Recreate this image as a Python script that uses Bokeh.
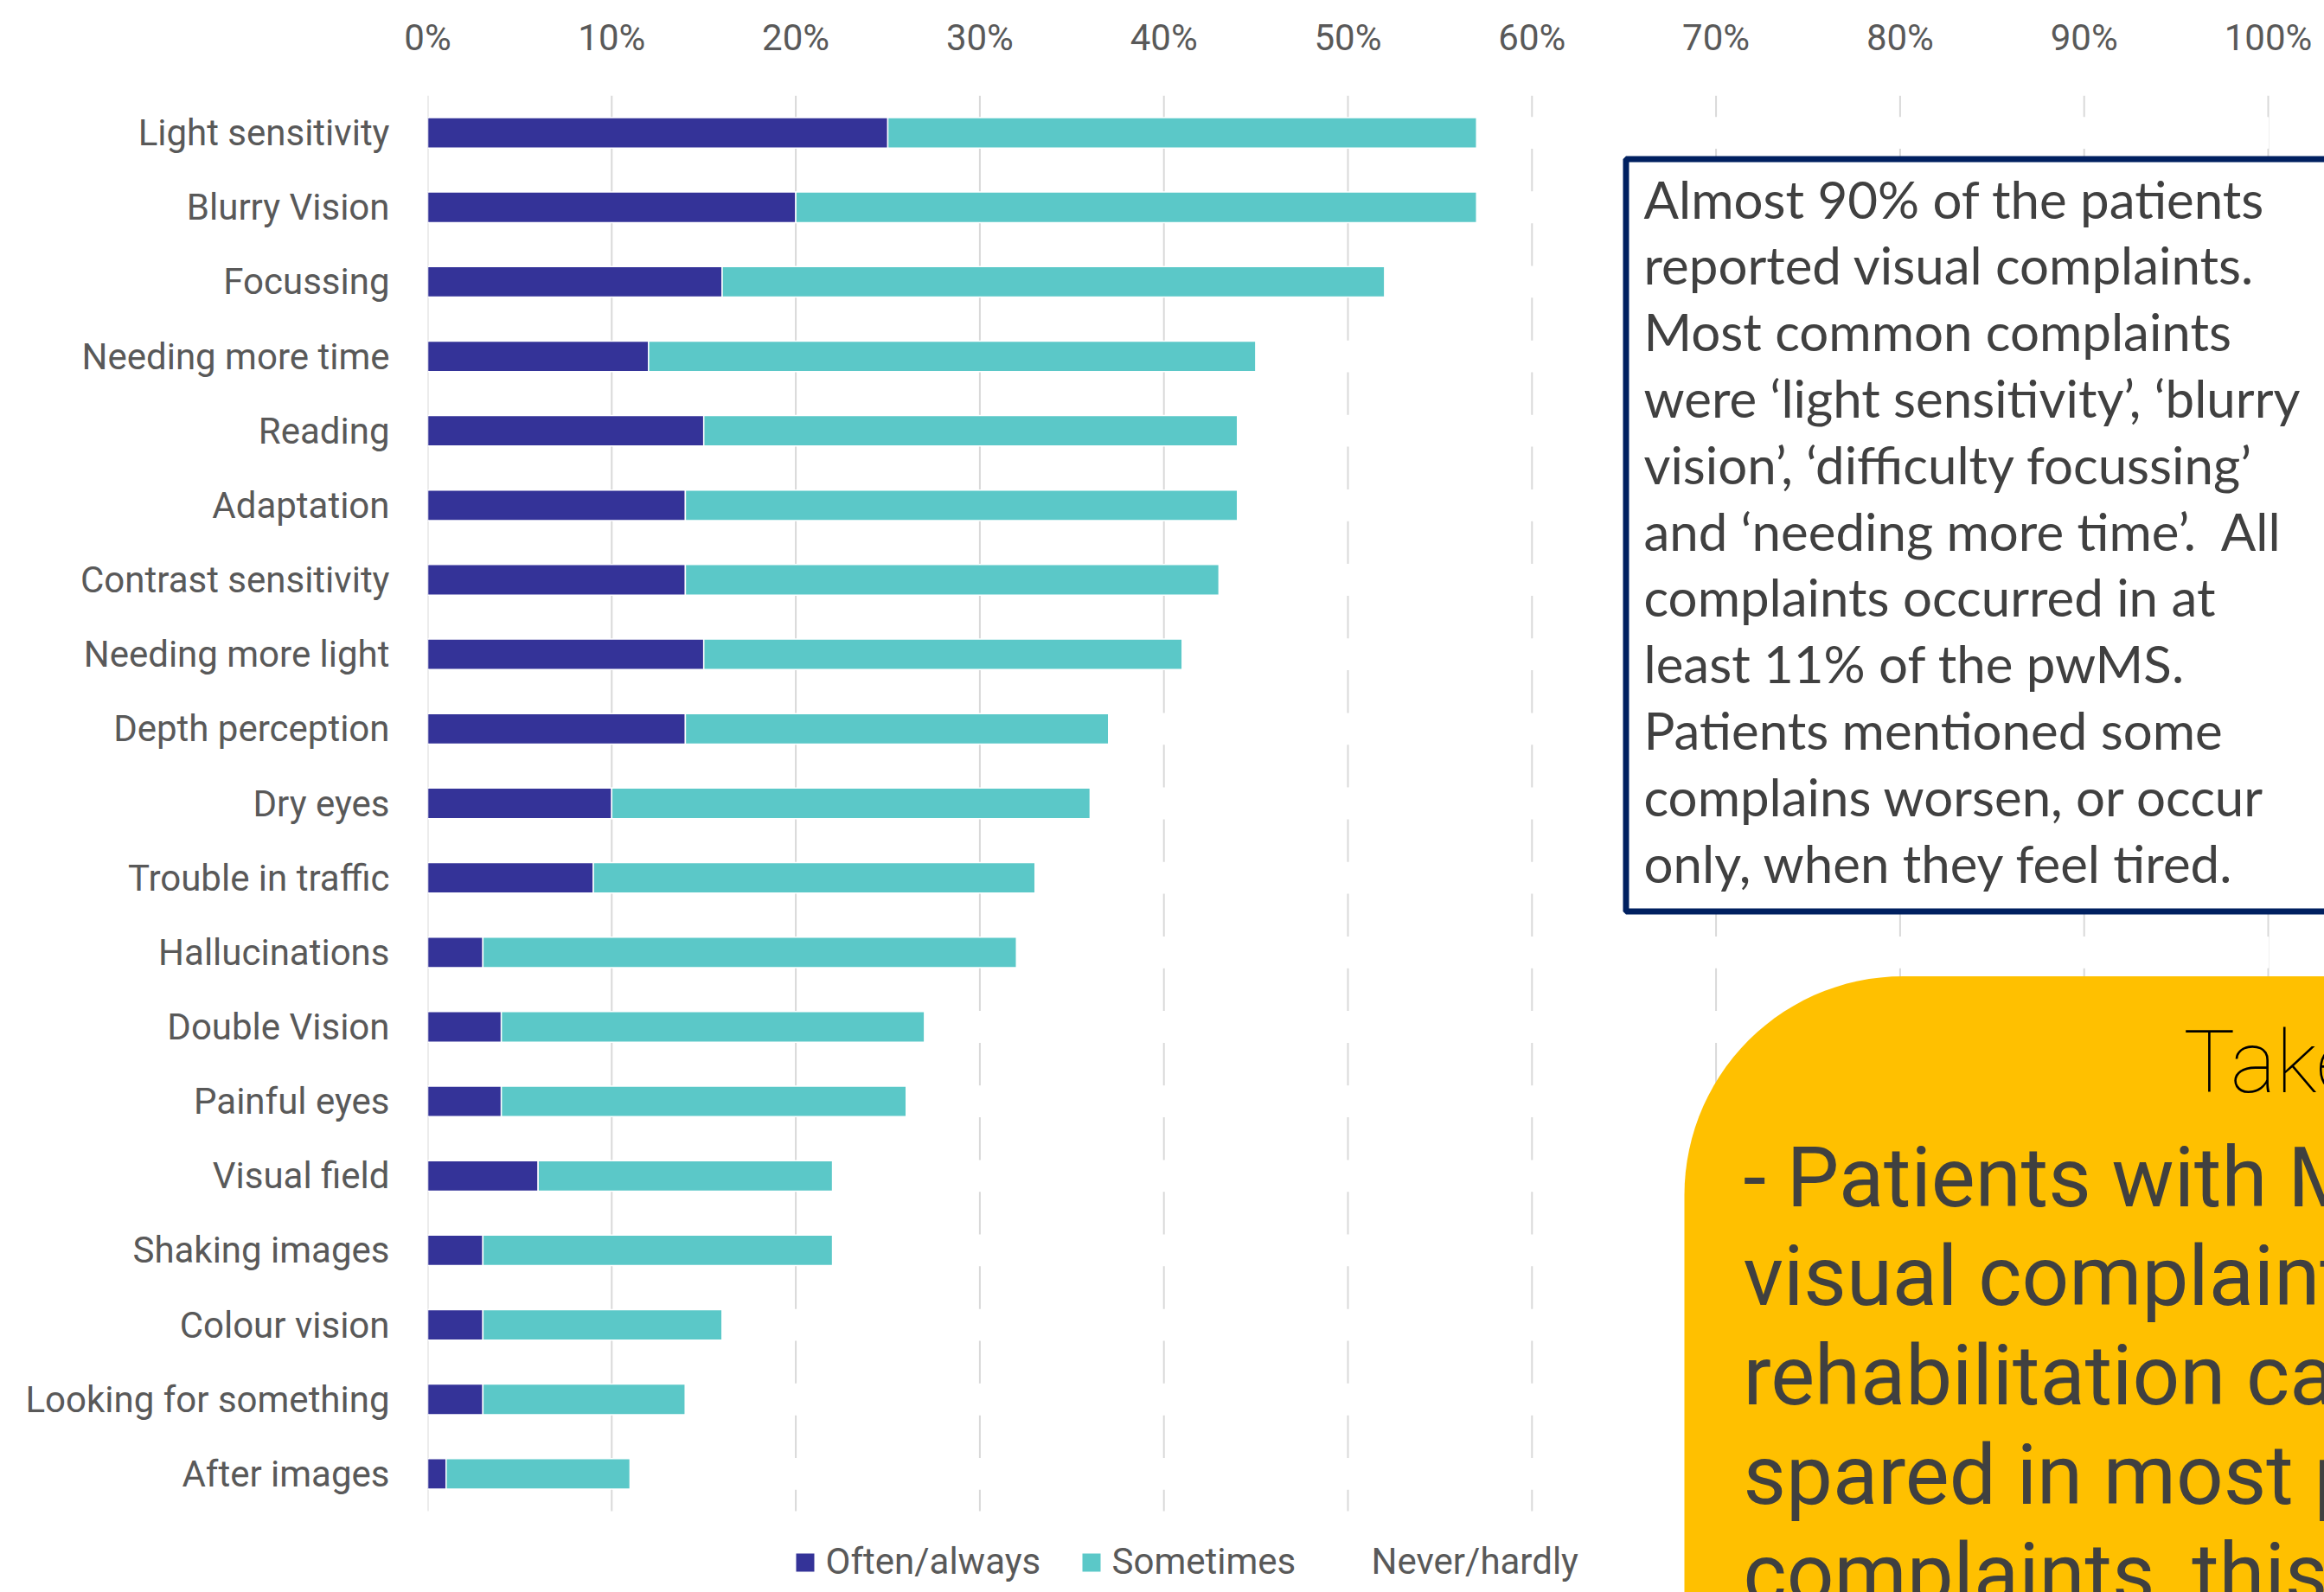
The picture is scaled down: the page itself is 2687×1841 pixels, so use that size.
import math
from bokeh.plotting import figure
from bokeh.models import (Range1d, FixedTicker, PrintfTickFormatter, CustomJSTickFormatter,
                          ColumnDataSource)
from bokeh.embed import file_html
from bokeh.resources import INLINE
from bokeh.core.properties import value

# ---------------- data ----------------
categories = ["Light sensitivity", "Blurry Vision", "Focussing", "Needing more time", "Reading",
              "Adaptation", "Contrast sensitivity", "Needing more light", "Depth perception",
              "Dry eyes", "Trouble in traffic", "Hallucinations", "Double Vision", "Painful eyes",
              "Visual field", "Shaking images", "Colour vision", "Looking for something",
              "After images"]
often_always = [25, 20, 16, 12, 15, 14, 14, 15, 14, 10, 9, 3, 4, 4, 6, 3, 3, 3, 1]
sometimes = [32, 37, 36, 33, 29, 30, 29, 26, 23, 26, 24, 29, 23, 22, 16, 19, 13, 11, 10]
never_hardly = [100 - a - b for a, b in zip(often_always, sometimes)]
series_names = ["Often/always", "Sometimes", "Never/hardly"]
series_colors = ["#343398", "#5bc8c8", "#ffffff"]
x_ticks = [0, 10, 20, 30, 40, 50, 60, 70, 80, 90, 100]

info_lines = ["Almost 90% of the patients",
              "reported visual complaints.",
              "Most common complaints",
              "were \u2018light sensitivity\u2019, \u2018blurry",
              "vision\u2019, \u2018difficulty focussing\u2019",
              "and \u2018needing more time\u2019.\u00a0 All",
              "complaints occurred in at",
              "least 11% of the pwMS.",
              "Patients mentioned some",
              "complains worsen, or occur",
              "only, when they feel tired."]
take_title = "Take home message"
take_lines = ["- Patients with MS",
              "visual complaints",
              "rehabilitation care",
              "spared in most patients",
              "complaints, this"]

# ---------------- layout (page pixel coordinates) ----------------
W, H = 2687, 1841
FL, FT = 494, 110          # frame left / top on the page
FR, FB = W, H              # frame right / bottom on the page
CAT_BOTTOM = 1747
PX_PER_PCT = 21.28
n = len(categories)
unit = (CAT_BOTTOM - FT) / n
SANS = "Roboto"

x_range = Range1d(0, (FR - FL) / PX_PER_PCT)
y_range = Range1d(start=-0.5 + (FB - FT) / unit, end=-0.5)

p = figure(width=W, height=H, x_range=x_range, y_range=y_range,
           x_axis_location="above", output_backend="svg", toolbar_location=None,
           min_border_left=FL, min_border_top=FT,
           min_border_right=0, min_border_bottom=0)
p.extra_x_ranges = {"px": Range1d(FL, FR)}
p.extra_y_ranges = {"px": Range1d(start=FB, end=FT)}
p.outline_line_color = None
p.background_fill_color = "white"
p.border_fill_color = "white"
p.xgrid.grid_line_color = None
p.ygrid.grid_line_color = None

ys = list(range(n))
source = ColumnDataSource(dict(cat=categories, y=ys, often=often_always,
                               some=sometimes, never=never_hardly))

# grid lines, only over the category area
p.segment(x0=x_ticks, x1=x_ticks, y0=[-0.5] * len(x_ticks), y1=[n - 0.5] * len(x_ticks),
          line_color="#d9d9d9", line_width=2)

bars = p.hbar_stack(["often", "some", "never"], y="y", height=0.41, source=source,
                    color=series_colors, line_color="white", line_width=1.5)

# axes
ax = p.xaxis[0]
ax.ticker = FixedTicker(ticks=x_ticks)
ax.formatter = PrintfTickFormatter(format="%d%%")
ay = p.yaxis[0]
ay.ticker = FixedTicker(ticks=ys)
ay.formatter = CustomJSTickFormatter(
    args=dict(labels=categories),
    code="const i = Math.round(tick); return (i >= 0 && i < labels.length) ? labels[i] : '';")
for a, standoff in ((ax, 37), (ay, 38)):
    a.axis_line_color = None
    a.major_tick_line_color = None
    a.minor_tick_line_color = None
    a.major_label_text_font = SANS
    a.major_label_text_font_size = "42px"
    a.major_label_text_color = "#595959"
    a.major_label_standoff = standoff

# legend (drawn as marks below the bars)
leg_x = [920, 1251, 1551]
p.rect(x=[x + 10.5 for x in leg_x], y=[1806.5] * 3, width=21, height=21,
       width_units="screen", height_units="screen",
       x_range_name="px", y_range_name="px",
       fill_color=series_colors, line_color=None)
p.text(x=[x + 34 for x in leg_x], y=[1805] * 3, text=series_names,
       x_range_name="px", y_range_name="px",
       text_font=value(SANS), text_font_size="42px", text_color="#595959",
       text_baseline="middle", text_align="left")

# info text box
p.quad(left=1879.5, right=2800, top=183.5, bottom=1053.5, x_range_name="px", y_range_name="px",
       fill_color="white", line_color="#002060", line_width=7)
p.text(x=[1900] * len(info_lines), y=[229 + 76.8 * i for i in range(len(info_lines))],
       text=info_lines, x_range_name="px", y_range_name="px",
       text_font=value("Lato"), text_font_size="60px", text_color="#404040",
       text_baseline="middle", text_align="left")

# take-home box (rounded top-left corner)
bl, bt, rad = 1947, 1128.5, 253
arc = [math.radians(180 + 3 * k) for k in range(31)]
box_x = [bl, bl] + [bl + rad + rad * math.cos(t) for t in arc] + [3300, 3300]
box_y = [2500, bt + rad] + [bt + rad + rad * math.sin(t) for t in arc] + [bt, 2500]
p.patch(box_x, box_y, x_range_name="px", y_range_name="px",
        fill_color="#ffc000", line_color=None)
p.text(x=[2015] * len(take_lines), y=[1361 + 114.7 * i for i in range(len(take_lines))],
       text=take_lines, x_range_name="px", y_range_name="px",
       text_font=value(SANS), text_font_size="96px", text_color="#404040",
       text_baseline="middle", text_align="left")
p.text(x=[2524], y=[1228], text=[take_title], x_range_name="px", y_range_name="px",
       text_font=value(SANS), text_font_size="100px",
       text_color="black", text_baseline="middle", text_align="left")

open("out.html", "w").write(file_html(p, INLINE))
